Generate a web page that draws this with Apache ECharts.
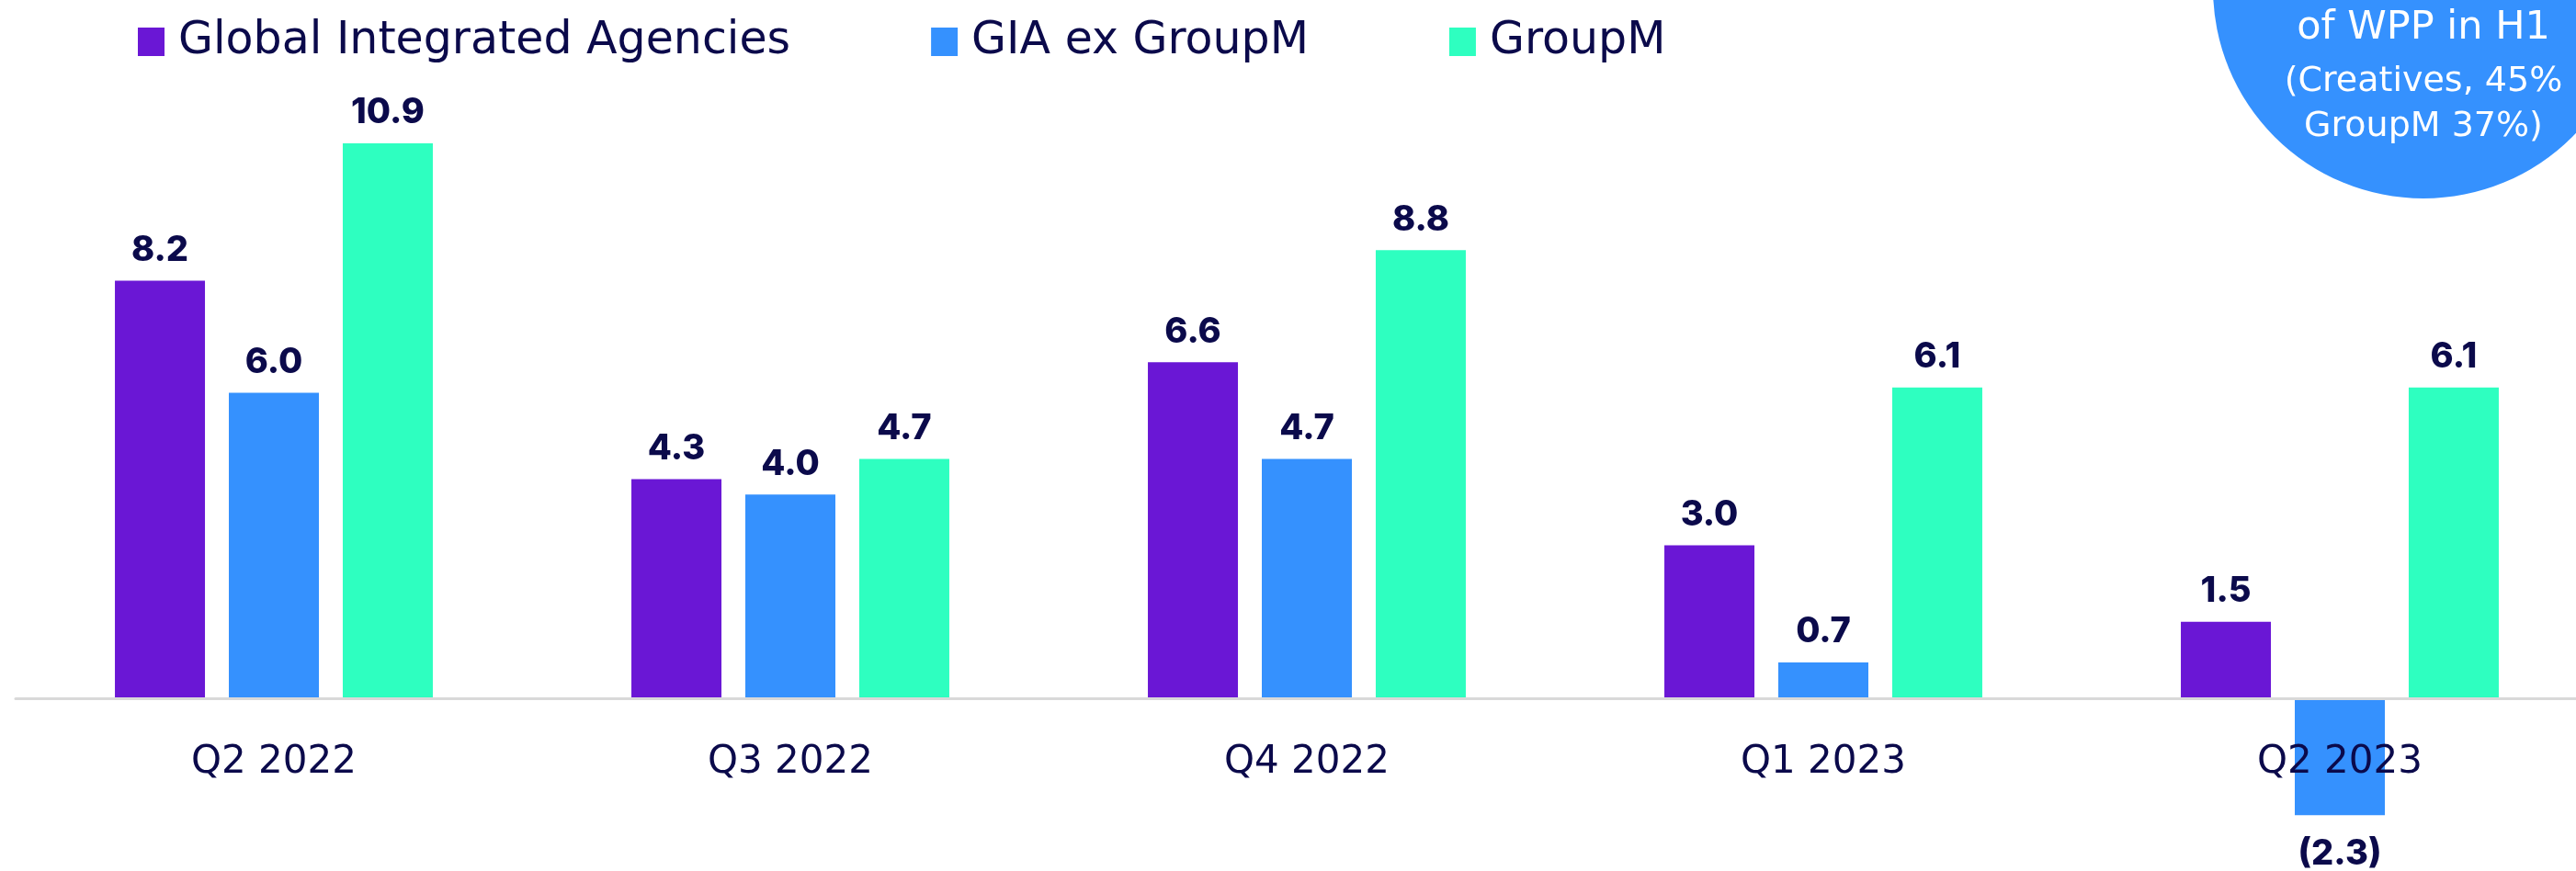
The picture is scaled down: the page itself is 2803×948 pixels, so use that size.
<!DOCTYPE html>
<html style="height: 100%">
<head>
<meta charset="utf-8">
<script src="https://cdn.jsdelivr.net/npm/echarts@6/dist/echarts.min.js"></script>
</head>
<body style="height: 100%; margin: 0; background: #fff">
<div id="container" style="width: 2803px; height: 948px"></div>
<script type="text/javascript">
var quarters = ['Q2 2022', 'Q3 2022', 'Q4 2022', 'Q1 2023', 'Q2 2023'];
var gia = [8.2, 4.3, 6.6, 3.0, 1.5];
var giaExGroupM = [6.0, 4.0, 4.7, 0.7, -2.3];
var groupM = [10.9, 4.7, 8.8, 6.1, 6.1];
var bubbleLines = ['of WPP in H1', '(Creatives, 45%', 'GroupM 37%)'];

var navy = '#0b0a4b';
var colors = ['#6a17d5', '#3591fe', '#2effc0'];

var myChart = echarts.init(document.getElementById('container'));

function valueLabel(v) {
  return v < 0 ? '(' + Math.abs(v).toFixed(1) + ')' : v.toFixed(1);
}

function makeData(arr) {
  return arr.map(function (v) {
    if (v < 0) {
      return { value: v, label: { position: 'bottom', distance: 23 } };
    }
    return v;
  });
}

function makeSeries(name, arr) {
  return {
    name: name,
    type: 'bar',
    barWidth: 98,
    barGap: '26.5%',
    data: makeData(arr),
    label: {
      show: true,
      position: 'top',
      distance: 14,
      color: navy,
      fontFamily: 'Inter',
      fontWeight: 800,
      fontSize: 38,
      formatter: function (p) { return valueLabel(p.value); }
    }
  };
}

var option = {
  animation: false,
  color: colors,
  legend: {
    left: 150,
    top: 21,
    padding: 0,
    icon: 'rect',
    itemWidth: 29,
    itemHeight: 31,
    itemGap: 153,
    textStyle: {
      color: navy,
      fontFamily: 'DejaVu Sans',
      fontSize: 49,
      padding: [0, 0, 0, 10]
    },
    data: ['Global Integrated Agencies', 'GIA ex GroupM', 'GroupM']
  },
  grid: {
    left: 17,
    top: 95,
    width: 2810,
    height: 831,
    containLabel: false,
    outerBoundsMode: 'none'
  },
  xAxis: {
    type: 'category',
    data: quarters,
    z: 5,
    axisLine: { lineStyle: { color: '#d9d9d9', width: 3 } },
    axisTick: { show: false },
    axisLabel: {
      // labels sit at the grid bottom, pull them up under the zero line
      margin: -117,
      color: navy,
      fontFamily: 'DejaVu Sans',
      fontSize: 42
    }
  },
  yAxis: {
    type: 'value',
    min: -3,
    max: 12,
    show: false,
    splitLine: { show: false }
  },
  series: [
    makeSeries('Global Integrated Agencies', gia),
    makeSeries('GIA ex GroupM', giaExGroupM),
    makeSeries('GroupM', groupM)
  ],
  graphic: {
    elements: [
      {
        type: 'circle',
        shape: { cx: 2637, cy: -13, r: 229 },
        style: { fill: '#3591fe' },
        z: 10
      },
      {
        type: 'text', x: 2637, y: 31, z: 11,
        style: { text: bubbleLines[0], font: '43px "DejaVu Sans"', fill: '#fff', align: 'center', verticalAlign: 'middle' }
      },
      {
        type: 'text', x: 2637, y: 89, z: 11,
        style: { text: bubbleLines[1], font: '38px "DejaVu Sans"', fill: '#fff', align: 'center', verticalAlign: 'middle' }
      },
      {
        type: 'text', x: 2637, y: 138, z: 11,
        style: { text: bubbleLines[2], font: '38px "DejaVu Sans"', fill: '#fff', align: 'center', verticalAlign: 'middle' }
      }
    ]
  }
};

myChart.setOption(option);
</script>
</body>
</html>
